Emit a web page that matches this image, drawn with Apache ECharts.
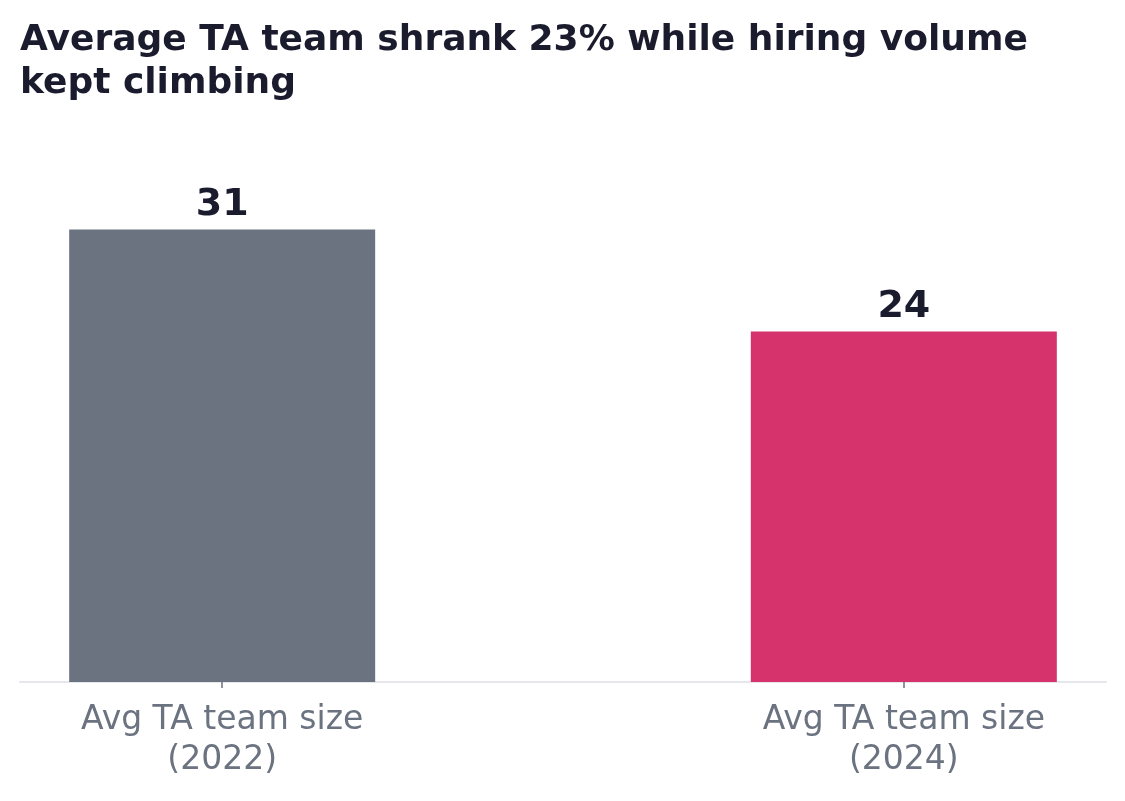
<!DOCTYPE html>
<html>
<head>
<meta charset="utf-8">
<script src="https://cdn.jsdelivr.net/npm/echarts@6/dist/echarts.min.js"></script>
<style>
  html, body { margin: 0; padding: 0; background: #fff; }
  #chart { width: 1125px; height: 801px; }
</style>
</head>
<body>
<div id="chart"></div>
<script>
// 데이터
const categories = ['Avg TA team size\n(2022)', 'Avg TA team size\n(2024)'];
const values = [31, 24];
const barColors = ['#6b7280', '#d6336c'];
const positions = [0, 1];

const chart = echarts.init(document.getElementById('chart'));

const option = {
  backgroundColor: '#ffffff',
  animation: false,
  title: {
    text: 'Average TA team shrank 23% while hiring volume\nkept climbing',
    left: 20,
    top: 19,
    padding: 0,
    textStyle: {
      fontFamily: 'DejaVu Sans',
      fontWeight: 'bold',
      fontSize: 36,
      lineHeight: 43,
      color: '#1a1c2e'
    }
  },
  grid: { left: 20, right: 19, top: 171, bottom: 119 },
  xAxis: {
    type: 'value',
    min: -0.2966,
    max: 1.2966,
    splitLine: { show: false },
    axisLine: { show: true, onZero: false, lineStyle: { color: '#e5e7eb', width: 2 } },
    axisTick: { show: true, customValues: positions, length: 6, lineStyle: { color: '#6b7280', width: 1.5 } },
    axisLabel: {
      customValues: positions,
      formatter: v => categories[Math.round(v)],
      fontFamily: 'DejaVu Sans',
      fontSize: 33,
      lineHeight: 40,
      color: '#6b7280',
      margin: 18
    }
  },
  yAxis: {
    type: 'value',
    min: 0,
    max: 35,
    show: false
  },
  series: [{
    type: 'bar',
    barWidth: 306,
    data: positions.map((p, i) => ({
      value: [p, values[i]],
      itemStyle: { color: barColors[i] }
    })),
    label: {
      show: true,
      position: 'top',
      distance: 5,
      formatter: p => p.value[1],
      fontFamily: 'DejaVu Sans',
      fontWeight: 'bold',
      fontSize: 38,
      color: '#1a1c2e'
    }
  }]
};

chart.setOption(option);
</script>
</body>
</html>
